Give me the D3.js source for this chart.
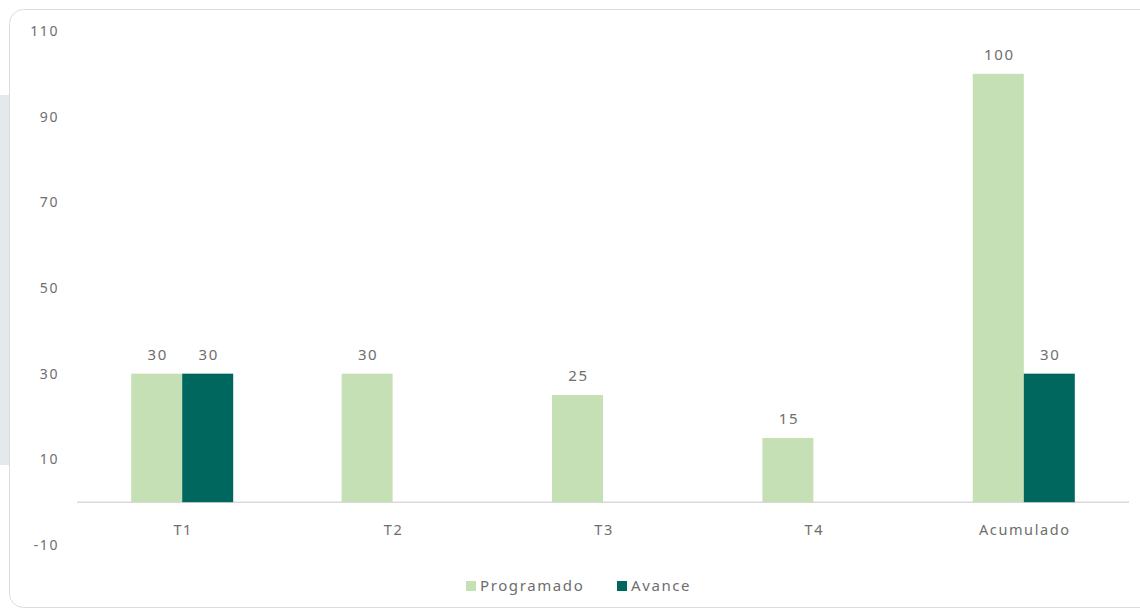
<!DOCTYPE html>
<meta charset="utf-8">
<script src="https://d3js.org/d3.v7.min.js"></script>
<style>
  body { margin: 0; background: #fff; }
  text { font-family: "Noto Sans", Lato, sans-serif; fill: #6e6e6e; letter-spacing: 1.6px; }
</style>
<div id="vis"></div>
<script>

// data
var categories = ["T1", "T2", "T3", "T4", "Acumulado"];
var seriesNames = ["Programado", "Avance"];
var programado = [30, 30, 25, 15, 100];
var avance = [30, null, null, null, 30];
var yTicks = [-10, 10, 30, 50, 70, 90, 110];
var colors = ["#c5e0b4", "#00675f"];

var W = 1140, H = 613;

var svg = d3.select("#vis")
  .append("svg")
    .attr("width", W)
    .attr("height", H);

// page decoration: grey strip + rounded card
svg.append("rect")
  .attr("x", 0).attr("y", 95).attr("width", 10).attr("height", 370)
  .attr("fill", "#e4e9eb");
svg.append("rect")
  .attr("x", 9.5).attr("y", 9.5).attr("width", 1160).attr("height", 598)
  .attr("rx", 14)
  .attr("fill", "#fff")
  .attr("stroke", "#dcdcdc");

// scales
var x = d3.scaleBand()
  .domain(categories)
  .range([77, 1129])
  .paddingInner(0)
  .paddingOuter(0);

var inner = 51;
var xs = d3.scaleBand()
  .domain(seriesNames)
  .range([x.bandwidth() / 2 - inner, x.bandwidth() / 2 + inner]);

var y = d3.scaleLinear()
  .domain([-10, 110])
  .range([545, 31]);

// y axis labels
svg.append("g")
  .selectAll("text")
  .data(yTicks)
  .enter()
  .append("text")
    .attr("x", 59)
    .attr("y", function(d) { return y(d); })
    .attr("dy", "0.35em")
    .attr("text-anchor", "end")
    .style("font-size", "14px")
    .text(function(d) { return d; });

// zero line
svg.append("line")
  .attr("x1", x.range()[0]).attr("x2", x.range()[1])
  .attr("y1", y(0)).attr("y2", y(0))
  .attr("stroke", "#d9d9d9")
  .attr("stroke-width", 1.5);

// category labels
svg.append("g")
  .selectAll("text")
  .data(categories)
  .enter()
  .append("text")
    .attr("x", function(d) { return x(d) + x.bandwidth() / 2 + 1; })
    .attr("y", y(0) + 33)
    .attr("text-anchor", "middle")
    .style("font-size", "14.5px")
    .text(function(d) { return d; });

// bars
var rows = [];
categories.forEach(function(c, i) {
  rows.push({cat: c, s: seriesNames[0], v: programado[i], col: colors[0]});
  if (avance[i] != null) rows.push({cat: c, s: seriesNames[1], v: avance[i], col: colors[1]});
});

svg.append("g")
  .selectAll("rect")
  .data(rows)
  .enter()
  .append("rect")
    .attr("x", function(d) { return x(d.cat) + xs(d.s); })
    .attr("y", function(d) { return y(d.v); })
    .attr("width", xs.bandwidth())
    .attr("height", function(d) { return y(0) - y(d.v); })
    .attr("fill", function(d) { return d.col; });

// value labels
svg.append("g")
  .selectAll("text")
  .data(rows)
  .enter()
  .append("text")
    .attr("x", function(d) { return x(d.cat) + xs(d.s) + xs.bandwidth() / 2 + 1; })
    .attr("y", function(d) { return y(d.v) - 14; })
    .attr("text-anchor", "middle")
    .style("font-size", "15px")
    .text(function(d) { return d.v; });

// legend
var legend = svg.append("g").attr("transform", "translate(466,586)");
var lx = [0, 151];
seriesNames.forEach(function(s, i) {
  legend.append("rect")
    .attr("x", lx[i]).attr("y", -5).attr("width", 10).attr("height", 10)
    .attr("fill", colors[i]);
  legend.append("text")
    .attr("x", lx[i] + 14).attr("y", 0).attr("dy", "0.35em")
    .style("font-size", "15px")
    .text(s);
});

</script>
